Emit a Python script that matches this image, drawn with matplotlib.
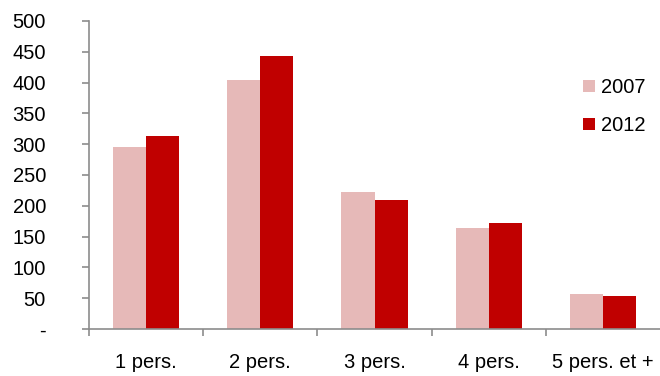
import matplotlib.pyplot as plt
import numpy as np

plt.rcParams['font.family'] = ['Liberation Sans', 'DejaVu Sans']

categories = ['1 pers.', '2 pers.', '3 pers.', '4 pers.', '5 pers. et +']
values_2007 = [295, 405, 223, 164, 57]
values_2012 = [314, 443, 210, 172, 54]
y_ticks = [0, 50, 100, 150, 200, 250, 300, 350, 400, 450, 500]
y_labels = ['-', '50', '100', '150', '200', '250', '300', '350', '400', '450', '500']

fig = plt.figure(figsize=(6.6, 3.76), dpi=100)
ax = fig.add_axes([89 / 660, 47 / 376, 571 / 660, 308 / 376])

x = np.arange(len(categories))
w = 0.29
ax.bar(x - w / 2, values_2007, width=w, color='#E6B9B8', label='2007')
ax.bar(x + w / 2, values_2012, width=w, color='#C00000', label='2012')

ax.set_xlim(-0.5, len(categories) - 0.5)
ax.set_ylim(0, 500)

# ticks at category boundaries, labels at centres
ax.set_xticks(np.arange(len(categories)) - 0.5)
ax.set_xticklabels([])
ax.set_xticks(x, minor=True)
ax.set_xticklabels(categories, minor=True, fontsize=14.5)
ax.tick_params(axis='x', which='major', length=5, color='#8c8c8c', width=1.2)
ax.tick_params(axis='x', which='minor', length=0, pad=17)

ax.set_yticks(y_ticks)
ax.set_yticklabels(y_labels, fontsize=14.5)
ax.tick_params(axis='y', length=5, color='#8c8c8c', width=1.2, pad=26)

for side in ['top', 'right']:
    ax.spines[side].set_visible(False)
for side in ['left', 'bottom']:
    ax.spines[side].set_color('#8c8c8c')
    ax.spines[side].set_linewidth(1.2)

ax.legend(loc='upper left', bbox_to_anchor=(573 / 660, 1 - 68 / 376),
          bbox_transform=fig.transFigure, frameon=False, fontsize=14.5,
          handlelength=0.6, handleheight=0.6, handletextpad=0.3,
          labelspacing=0.95, borderpad=0)

fig.savefig('out.png', dpi=100)
